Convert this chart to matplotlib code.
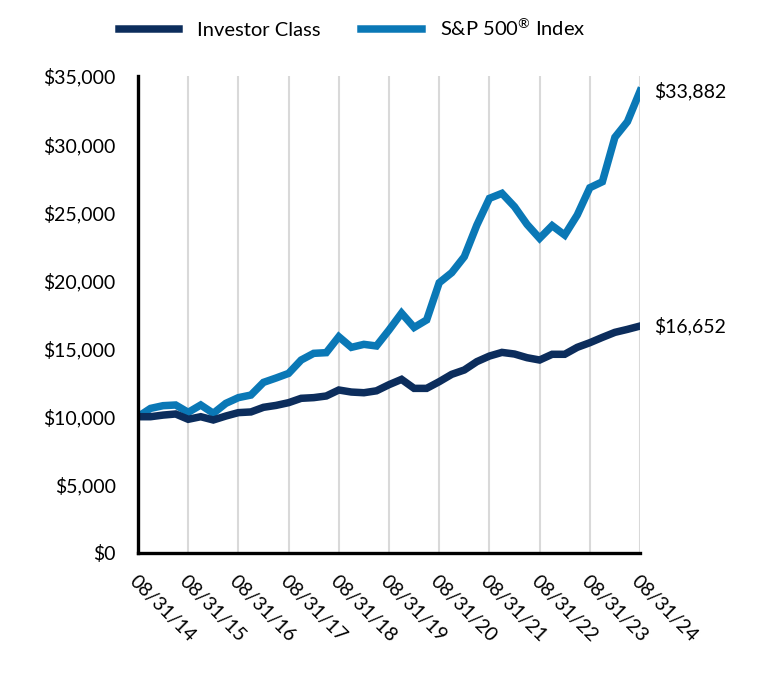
import numpy as np
from matplotlib import pyplot as plt
from matplotlib.ticker import FuncFormatter

plt.rcParams['font.family'] = ['Lato', 'DejaVu Sans']
plt.rcParams['mathtext.fontset'] = 'custom'
plt.rcParams['mathtext.rm'] = 'Lato'
plt.rcParams['mathtext.it'] = 'Lato:italic'
plt.rcParams['mathtext.bf'] = 'Lato:bold'

# Quarterly growth of $10,000, 08/31/14 - 08/31/24
investor = [10000, 10000, 10120, 10200, 9810, 10000, 9760, 10050, 10300, 10350,
            10690, 10830, 11030, 11350, 11400, 11520, 11960, 11810, 11760, 11900,
            12350, 12740, 12080, 12080, 12570, 13110, 13430, 14040, 14450, 14720,
            14600, 14330, 14160, 14580, 14580, 15090, 15430, 15820, 16190, 16410,
            16652]
sp500 = [10000, 10610, 10810, 10860, 10320, 10860, 10250, 10980, 11400, 11590,
         12520, 12840, 13180, 14160, 14650, 14700, 15870, 15090, 15310, 15190,
         16360, 17600, 16550, 17100, 19830, 20570, 21740, 24060, 26020, 26390,
         25410, 24110, 23090, 24020, 23330, 24800, 26800, 27240, 30500, 31650,
         33882]
year_labels = ['08/31/14', '08/31/15', '08/31/16', '08/31/17', '08/31/18', '08/31/19',
               '08/31/20', '08/31/21', '08/31/22', '08/31/23', '08/31/24']

dark = '#0c2d5c'
light = '#0a78b6'

fig = plt.figure(figsize=(7.68, 6.84), dpi=100)
ax = fig.add_axes([138/768, 1 - 553/684, (640 - 138)/768, (553 - 76)/684])

q = np.arange(len(investor))
ax.plot(q, sp500, color=light, lw=5.4, solid_joinstyle='miter', label='S&P 500$^{\\mathrm{\u00ae}}$ Index', zorder=3)
ax.plot(q, investor, color=dark, lw=5.4, solid_joinstyle='miter', label='Investor Class', zorder=4)

ax.set_xlim(0, 40)
ax.set_ylim(0, 35000)
ax.set_xticks(np.arange(0, 41, 4))
ax.set_xticklabels(year_labels, rotation=-45, ha='left', va='top', rotation_mode='anchor')
ax.set_yticks(np.arange(0, 35001, 5000))
ax.yaxis.set_major_formatter(FuncFormatter(lambda v, p: '${:,.0f}'.format(v)))
ax.tick_params(axis='both', length=0, labelsize=14, colors='black')
ax.tick_params(axis='y', pad=16)
ax.tick_params(axis='x', pad=14)
ax.grid(axis='x', color='#d9d9d9', lw=1.5, zorder=0)

for s in ['top', 'right']:
    ax.spines[s].set_visible(False)
for s in ['left', 'bottom']:
    ax.spines[s].set_linewidth(2.4)
    ax.spines[s].set_color('black')
    ax.spines[s].set_zorder(5)

ax.annotate('${:,.0f}'.format(sp500[-1]), xy=(q[-1], sp500[-1]), xytext=(10, 0),
            textcoords='offset points', ha='left', va='center', fontsize=14, annotation_clip=False)
ax.annotate('${:,.0f}'.format(investor[-1]), xy=(q[-1], investor[-1]), xytext=(10, 0),
            textcoords='offset points', ha='left', va='center', fontsize=14, annotation_clip=False)

h, l = ax.get_legend_handles_labels()
fig.legend(h[::-1], l[::-1], loc='center', bbox_to_anchor=(352/768, 1 - 28/684), ncol=2,
           frameon=False, fontsize=14.5, handlelength=3.0, handletextpad=0.9, columnspacing=2.0)

fig.savefig('out.png', dpi=100)
